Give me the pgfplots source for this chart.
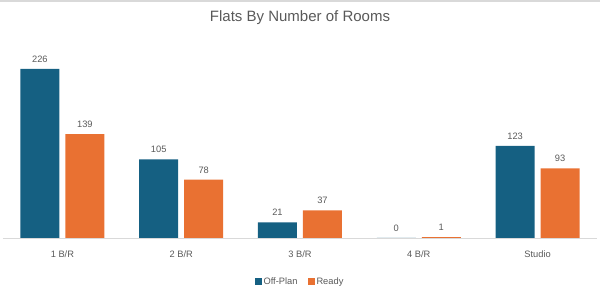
\documentclass[border=0pt]{standalone}
\usepackage{pgfplots}
\pgfplotsset{compat=1.18}
\usepackage{fontspec}
\setmainfont{Liberation Sans}
\definecolor{offplan}{HTML}{156082}
\definecolor{ready}{HTML}{E97132}
\definecolor{txt}{HTML}{595959}
\definecolor{axl}{HTML}{D9D9D9}
\begin{document}
\begin{tikzpicture}[x=1pt,y=1pt]
\path[use as bounding box] (-3,-61) rectangle (597,238);
\draw[axl,line width=1.5pt] (-3,237.2) -- (597,237.2);
\begin{axis}[
  at={(0,0)}, anchor=south west,
  scale only axis, width=594pt, height=187pt,
  xmin=-0.5, xmax=4.5, ymin=0, ymax=250,
  ybar=6pt, bar width=39pt,
  axis x line*=bottom, axis y line=none,
  x axis line style={axl, line width=0.8pt, -},
  xtick=data, xticklabels={1 B/R,2 B/R,3 B/R,4 B/R,Studio},
  xtick style={draw=none},
  /pgf/number format/assume math mode=true,
  ticklabel style={font=\fontsize{9.3}{11}\selectfont, text=txt},
  xticklabel style={yshift=-5pt},
  nodes near coords,
  every node near coord/.append style={font=\fontsize{9.3}{11}\selectfont, text=txt, yshift=3pt},
  legend style={at={(0.5,-0.235)}, anchor=center, draw=none, legend columns=2,
    font=\fontsize{9.3}{11}\selectfont, text=txt, /tikz/every even column/.append style={column sep=8pt}},
  legend image code/.code={\fill[#1] (0pt,-3.5pt) rectangle (7pt,3.5pt);},
  clip=false,
]
\addplot[fill=offplan, draw=none] coordinates {(0,226) (1,105) (2,21) (3,0) (4,123)};
\addplot[fill=ready, draw=none] coordinates {(0,139) (1,78) (2,37) (3,1) (4,93)};
\legend{Off-Plan,Ready}
\end{axis}
\node[text=txt, font=\fontsize{15}{18}\selectfont] at (297,220) {Flats By Number of Rooms};
\end{tikzpicture}
\end{document}
